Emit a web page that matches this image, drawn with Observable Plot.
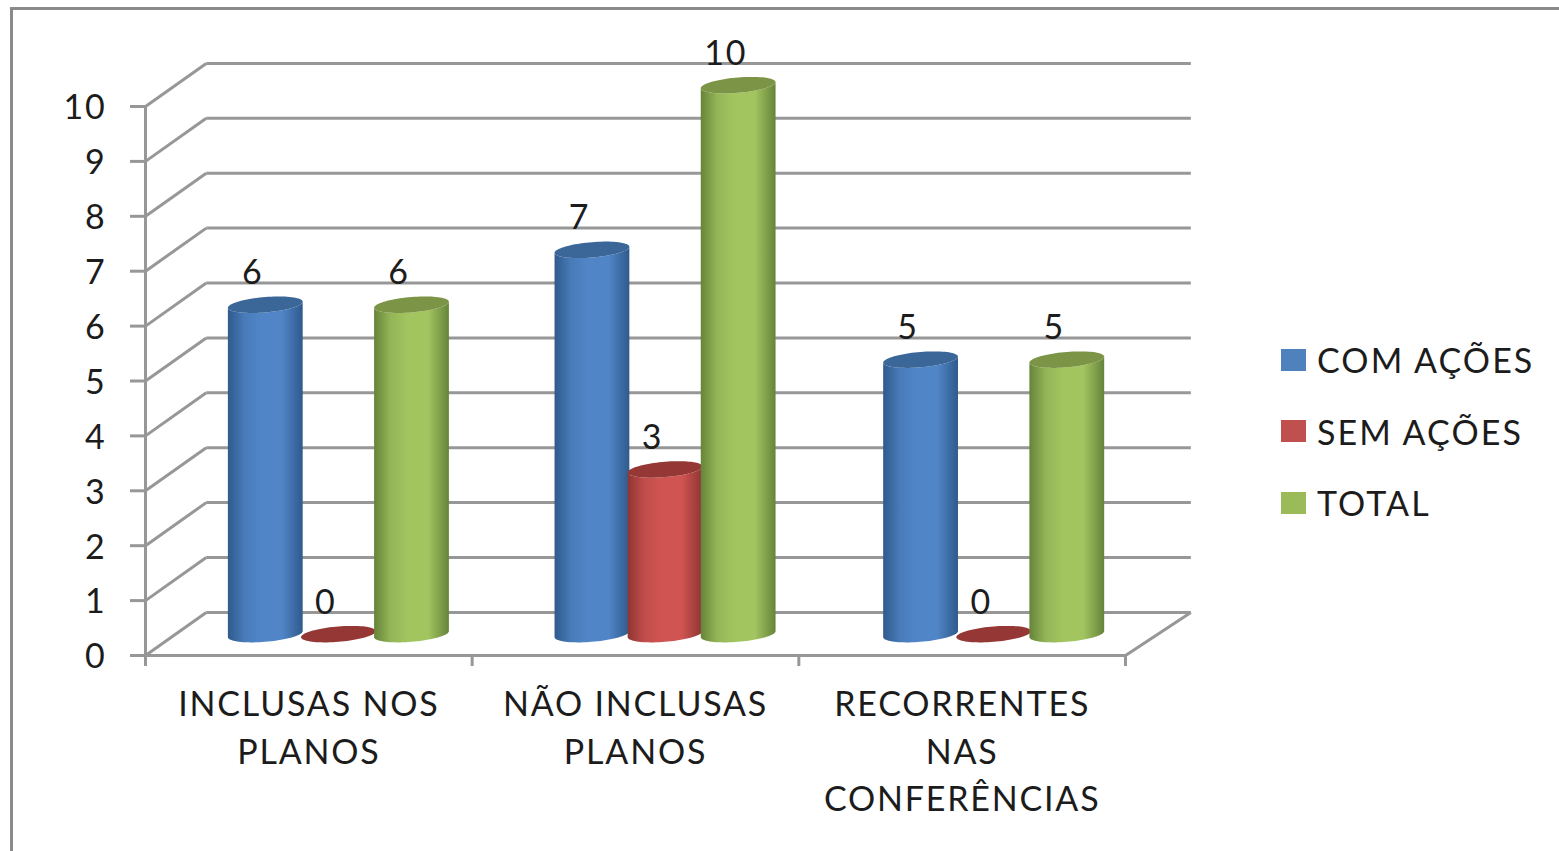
<!DOCTYPE html>
<html lang="pt">
<head>
<meta charset="utf-8">
<title>Ações por categoria</title>
<script src="https://cdn.jsdelivr.net/npm/d3@7"></script>
<script src="https://cdn.jsdelivr.net/npm/@observablehq/plot@0.6"></script>
<style>
  html, body { margin: 0; background: #fff; overflow: hidden; }
  #page { position: relative; width: 1559px; height: 851px; overflow: hidden; }
  #frame { position: absolute; left: 10px; top: 7px; right: -10px; bottom: -10px;
           border: 3.5px solid #8a8a8a; pointer-events: none; }
  #chart { position: absolute; left: 0; top: 0; }
  #legend { position: absolute; left: 1281px; top: 324px; font: 34px Lato, sans-serif;
            letter-spacing: 2.1px; color: #1c1c1c; }
  .item { display: flex; align-items: center; height: 71.5px; white-space: nowrap; }
  .swatch { width: 25px; height: 22px; margin-right: 11px; }
</style>
</head>
<body>
<div id="page">
  <div id="frame"></div>
  <div id="chart"></div>
  <div id="legend"></div>
</div>
<script>
// Chart values
const categories = ["INCLUSAS NOS\nPLANOS", "NÃO INCLUSAS\nPLANOS", "RECORRENTES\nNAS\nCONFERÊNCIAS"];
const seriesNames = ["COM AÇÕES", "SEM AÇÕES", "TOTAL"];
const comAcoes = [6, 7, 5];
const semAcoes = [0, 3, 0];
const total = [6, 10, 5];
const yTicks = [0, 1, 2, 3, 4, 5, 6, 7, 8, 9, 10];

// Colours per series: shaded edge, lit centre, cap, legend swatch
const edgeColors = ["#2f5a8c", "#8e3533", "#66843a"];
const midColors = ["#5086c8", "#d05552", "#a3c560"];
const capColors = ["#3b6698", "#953735", "#7c9445"];
const swatchColors = ["#4f81bd", "#c0504d", "#9bbb59"];
const gridColor = "#979797";
const fontFamily = "Lato, sans-serif";
const textSize = 34;

// Oblique projection of the 3D box, in data units
const depthX = 0.186, depthY = 0.785;   // floor depth along each axis
const backRight = 3.2;                  // right end of the back wall
const liftY = 0.38;                     // cylinders stand mid-way across the floor
const groupOffsets = [0.592, 0.592, 0.598], seriesStep = 0.2238;
const radiusX = 0.1145, radiusY = 0.14, tilt = 0.055;

const seriesValues = [comAcoes, semAcoes, total];
const cylinders = seriesValues.flatMap((values, s) =>
  values.map((value, c) => ({
    series: s, category: c, value,
    cx: c + groupOffsets[c] + (s - 1) * seriesStep,
    top: value + liftY
  }))
);

// Outline samples of a tilted ellipse seen from above
const sweep = d3.range(0, 41).map(i => -Math.cos(Math.PI * i / 40));
const outline = cylinders.flatMap(d => sweep.map(t => {
  const arc = radiusY * Math.sqrt(Math.max(0, 1 - t * t));
  const shear = t * tilt;
  return {
    key: `${d.series}-${d.category}`, series: d.series,
    x: d.cx + t * radiusX,
    bodyLow: liftY + shear - arc,
    bodyHigh: d.top + shear - arc,
    capLow: d.top + shear - arc,
    capHigh: d.top + shear + arc
  };
}));

// Horizontal shading of the cylinder sides
const gradients = () => {
  const g = d3.create("svg:g");
  const defs = g.append("defs");
  seriesNames.forEach((_, s) => {
    const grad = defs.append("linearGradient").attr("id", `side-${s}`);
    [[0, edgeColors[s]], [0.22, d3.interpolateRgb(edgeColors[s], midColors[s])(0.75)],
     [0.45, midColors[s]], [0.72, midColors[s]], [1, edgeColors[s]]]
      .forEach(([o, c]) => grad.append("stop").attr("offset", o).attr("stop-color", c));
  });
  return g.node();
};

const cylinderMarks = seriesNames.flatMap((_, s) => {
  const rows = outline.filter(d => d.series === s);
  return [
    Plot.area(rows, {x1: "x", y1: "bodyLow", y2: "bodyHigh", z: "key", fill: `url(#side-${s})`}),
    Plot.area(rows, {x1: "x", y1: "capLow", y2: "capHigh", z: "key", fill: capColors[s]})
  ];
});

const grid = {stroke: gridColor, strokeWidth: 3};
const plot = Plot.plot({
  width: 1559,
  height: 851,
  marginLeft: 145,
  marginRight: 434,
  marginTop: 106,
  marginBottom: 196,
  style: {fontFamily, background: "transparent", overflow: "visible", letterSpacing: "1.8px"},
  x: {type: "linear", domain: [0, 3]},
  y: {type: "linear", domain: [0, 10]},
  marks: [
    gradients,
    // Back wall and side-wall gridlines
    Plot.link(yTicks, {x1: depthX, x2: backRight, y1: d => d + depthY, y2: d => d + depthY, ...grid}),
    Plot.link(yTicks, {x1: 0, x2: depthX, y1: d => d, y2: d => d + depthY, ...grid}),
    Plot.link([0], {x1: 3, x2: backRight, y1: 0, y2: depthY, ...grid}),
    // Front axes
    Plot.ruleX([0], {y1: 0, y2: 10, ...grid}),
    Plot.ruleY([0], {x1: 0, x2: 3, ...grid}),
    Plot.axisY({
      ticks: yTicks, tickSize: 15, tickFormat: () => "", label: null,
      stroke: gridColor, strokeWidth: 3
    }),
    Plot.axisY({
      ticks: yTicks, tickSize: 0, tickPadding: 39, dy: 2, label: null,
      fontSize: textSize, fill: "#1c1c1c"
    }),
    Plot.axisX({
      ticks: [0, 1, 2, 3], tickSize: 11, tickFormat: () => "", label: null,
      stroke: gridColor, strokeWidth: 3
    }),
    ...cylinderMarks,
    // Value labels
    Plot.text(cylinders, {
      x: "cx", y: "top", text: d => String(d.value), dx: -13, dy: -32,
      fontSize: textSize, fill: "#1c1c1c"
    }),
    // Category labels below the floor
    Plot.text(categories, {
      x: (d, i) => i + 0.5, y: () => 0, text: d => d, dy: 27,
      lineAnchor: "top", lineHeight: 47.5 / textSize, fontSize: textSize, fill: "#1c1c1c"
    })
  ]
});
document.getElementById("chart").append(plot);

// Legend beside the plot
const legend = d3.select("#legend");
seriesNames.forEach((name, s) => {
  const item = legend.append("div").attr("class", "item");
  item.append("span").attr("class", "swatch").style("background", swatchColors[s]);
  item.append("span").text(name);
});
</script>
</body>
</html>
